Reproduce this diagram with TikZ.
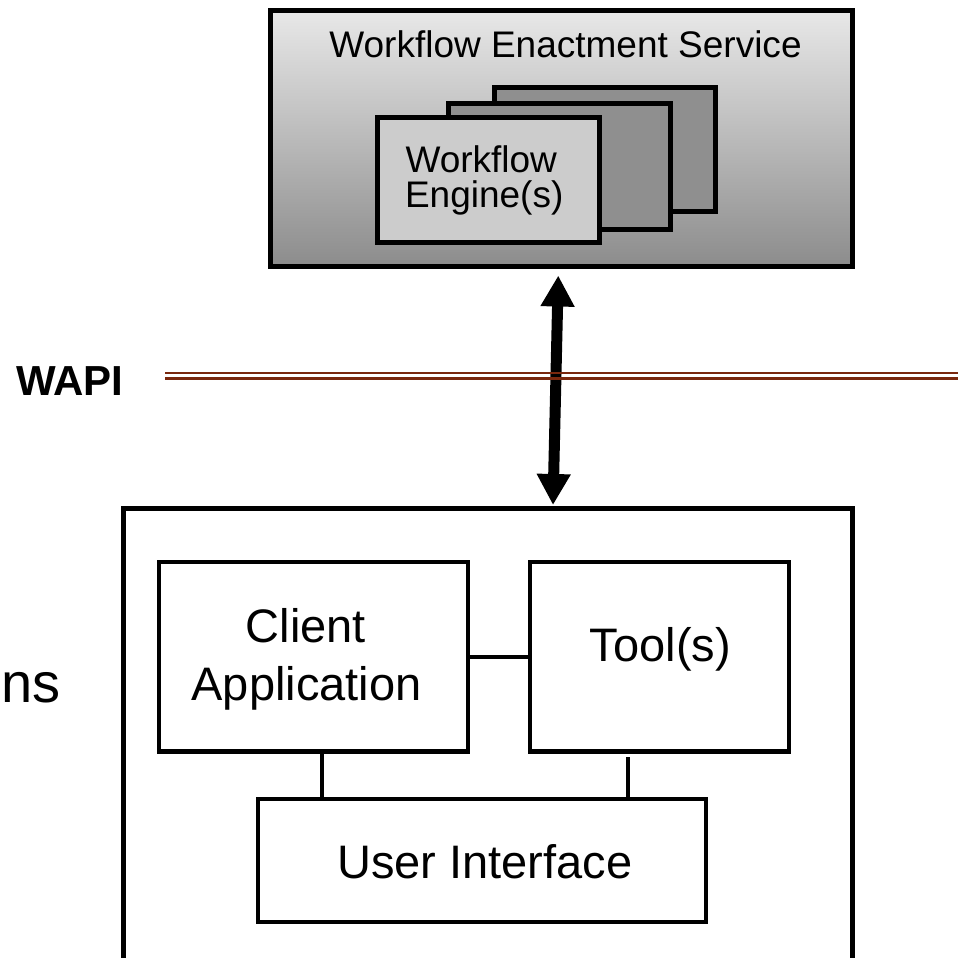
\documentclass[tikz,border=0pt]{standalone}
\usepackage{fontspec}
\setmainfont{Liberation Sans}
\usetikzlibrary{arrows.meta}
\definecolor{wapibrown}{RGB}{122,40,14}
\definecolor{shadetop}{RGB}{232,232,232}
\definecolor{shademid}{RGB}{196,196,196}
\definecolor{shadebot}{RGB}{140,140,140}
\definecolor{enginedark}{RGB}{143,143,143}
\definecolor{enginelight}{RGB}{204,204,204}
\newcommand{\pxfont}[1]{\fontsize{#1bp}{#1bp}\selectfont}
\begin{document}
\begin{tikzpicture}[x=1bp,y=-1bp,
  box/.style={rectangle,draw=black,line width=5bp,inner sep=0pt,outer sep=0pt},
  partbox/.style={rectangle,draw=black,line width=4.5bp,fill=white,inner sep=0pt,outer sep=0pt},
  conn/.style={draw=black,line width=4bp},
  txt/.style={inner sep=0pt,outer sep=0pt},
  wapiline/.style={draw=wapibrown,line width=2.5bp},
  apiarrow/.style={line width=11bp,{Triangle[width=32bp,length=31bp]}-{Triangle[width=32bp,length=31bp]}}]

\useasboundingbox (0,0) rectangle (969,958);
\fill[white] (0,0) rectangle (969,958);
\clip (0,0) rectangle (969,958);

% Workflow enactment service with its stack of engines
\node[box,top color=shadetop,middle color=shademid,bottom color=shadebot,
      minimum width=581.5bp,minimum height=256bp] (wes) at (561.25,138.5) {};
\node[txt,anchor=base,font=\pxfont{37}] (westitle) at (565.5,57) {Workflow Enactment Service};
\node[box,fill=enginedark,minimum width=221bp,minimum height=123.5bp] (eng3) at (604.5,149.25) {};
\node[box,fill=enginedark,minimum width=222bp,minimum height=126bp] (eng2) at (559,166) {};
\node[box,fill=enginelight,minimum width=222bp,minimum height=125.5bp] (eng1) at (488.5,179.75) {};
\node[txt,anchor=base west,font=\pxfont{37}] (englA) at (405.5,172) {Workflow};
\node[txt,anchor=base west,font=\pxfont{37}] (englB) at (405,207) {Engine(s)};

% WAPI interface level
\node[txt,anchor=base west,font=\pxfont{42}\bfseries] (wapi) at (16,395) {WAPI};
\coordinate (wl) at (165,375.9);
\coordinate (wr) at (958,375.9);

% Client side
\node[txt,anchor=base west,font=\pxfont{56}] (nsl) at (1,702) {ns};
\node[box,fill=white,minimum width=728bp,minimum height=501.5bp] (cwa) at (488,759.25) {};

\node[partbox,minimum width=309bp,minimum height=189.5bp] (capp) at (313.5,656.75) {};
\node[partbox,minimum width=259bp,minimum height=189.5bp] (tool) at (659.5,656.75) {};
\node[partbox,minimum width=448bp,minimum height=123bp] (ui) at (482,860.5) {};

\coordinate (lc) at ([xshift=8.5bp]capp.south);
\coordinate (rc) at ([xshift=-31.5bp,yshift=-5.5bp]tool.south);
\draw[conn] (capp.east) -- (tool.west);
\draw[conn] (lc) -- (lc |- ui.north);
\draw[conn] (rc) -- (rc |- ui.north);

\node[txt,anchor=base,font=\pxfont{47}] (cappA) at (306,642) {Client};
\node[txt,anchor=base,font=\pxfont{47}] (cappB) at (306.5,700) {Application};
\node[txt,anchor=base,font=\pxfont{47}] (tooll) at (660.5,661) {Tool(s)};
\node[txt,anchor=base,font=\pxfont{47}] (uil) at (484.8,878) {User Interface};

% call channel through the interface
\draw[apiarrow] ([xshift=-3bp,yshift=-9bp]wes.south) -- ([xshift=65bp,yshift=3.5bp]cwa.north);
\draw[wapiline] ([yshift=2.75bp]wl) -- ([yshift=2.75bp]wr);
\draw[wapiline] ([yshift=-2.75bp]wl) -- ([yshift=-2.75bp]wr);
\end{tikzpicture}
\end{document}
